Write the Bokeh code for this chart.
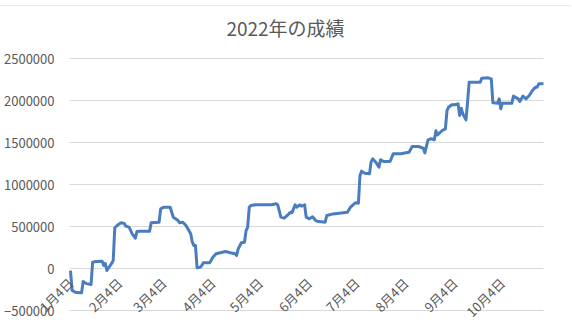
import math
import pandas as pd
from bokeh.plotting import figure
from bokeh.models import FixedTicker, BasicTickFormatter, Range1d, Label, LinearAxis
from bokeh.embed import file_html
from bokeh.resources import INLINE

year = 2022

dates = [
    "01-04", "01-05", "01-07", "01-10", "01-11", "01-12", "01-14", "01-17", "01-18", "01-20",
    "01-24", "01-25", "01-26", "01-27", "01-30", "01-31",
    "02-01", "02-03", "02-05", "02-07", "02-08", "02-10", "02-12", "02-14", "02-15", "02-17",
    "02-23", "02-24",
    "03-01", "03-02", "03-04", "03-08", "03-10", "03-13", "03-14", "03-16", "03-18", "03-21",
    "03-22", "03-23", "03-24", "03-25", "03-27", "03-28", "03-29",
    "04-02", "04-04", "04-06", "04-10", "04-12", "04-15", "04-18", "04-19", "04-20", "04-22",
    "04-24", "04-25", "04-26", "04-27", "04-28",
    "05-01", "05-11", "05-14", "05-15", "05-17", "05-19", "05-21", "05-23", "05-24", "05-26",
    "05-27", "05-29", "05-30",
    "06-01", "06-02", "06-04", "06-06", "06-08", "06-09", "06-14", "06-15", "06-19", "06-28",
    "06-30",
    "07-03", "07-05", "07-06", "07-07", "07-09", "07-12", "07-13", "07-14", "07-16", "07-18",
    "07-19", "07-21", "07-25", "07-27",
    "08-01", "08-04", "08-06", "08-08", "08-12", "08-15", "08-16", "08-18", "08-20", "08-22",
    "08-23", "08-24", "08-27", "08-29", "08-30", "08-31",
    "09-02", "09-04", "09-06", "09-07", "09-08", "09-09", "09-11", "09-12", "09-13", "09-20",
    "09-21", "09-25", "09-27", "09-28",
    "10-01", "10-02", "10-03", "10-04", "10-10", "10-11", "10-14", "10-15", "10-17", "10-19",
    "10-21", "10-23", "10-25", "10-26", "10-27", "10-30",
]

values = [
    -24000, -260000, -282000, -290000, -290000, -155000, -180000, -190000, 75000, 83000,
    87000, 36000, 60000, -24000, 60000, 95000,
    485000, 520000, 544000, 536000, 504000, 492000, 413000, 361000, 440000, 444000,
    444000, 544000,
    551000, 710000, 730000, 730000, 611000, 571000, 544000, 551000, 512000, 413000,
    313000, 274000, 274000, 10000, 16000, 36000, 68000,
    68000, 135000, 175000, 194000, 202000, 187000, 175000, 155000, 234000, 306000,
    313000, 452000, 492000, 730000, 750000,
    758000, 758000, 770000, 758000, 611000, 599000, 631000, 670000, 663000, 758000,
    730000, 758000, 742000,
    758000, 611000, 591000, 615000, 571000, 563000, 551000, 631000, 650000, 670000,
    730000,
    782000, 778000, 1107000, 1159000, 1135000, 1127000, 1266000, 1306000, 1266000, 1206000,
    1294000, 1274000, 1274000, 1365000,
    1365000, 1377000, 1385000, 1452000, 1452000, 1432000, 1377000, 1532000, 1544000, 1532000,
    1640000, 1591000, 1643000, 1663000, 1881000, 1920000,
    1949000, 1949000, 1960000, 1821000, 1908000, 1841000, 1770000, 1980000, 2218000, 2218000,
    2266000, 2270000, 2258000, 1972000,
    1968000, 2020000, 1901000, 1968000, 1968000, 2052000, 2020000, 1988000, 2052000, 2020000,
    2060000, 2119000, 2159000, 2159000, 2198000, 2198000,
]

tick_dates = ["01-04", "02-04", "03-04", "04-04", "05-04", "06-04", "07-04", "08-04", "09-04", "10-04"]
tick_labels = ["1月4日", "2月4日", "3月4日", "4月4日", "5月4日", "6月4日", "7月4日", "8月4日", "9月4日", "10月4日"]
y_ticks = [-500000, 0, 500000, 1000000, 1500000, 2000000, 2500000]
title_text = "2022年の成績"

base = pd.Timestamp(f"{year}-01-01")


def day_num(s):
    return (pd.Timestamp(f"{year}-{s}") - base).days


xs = [day_num(s) for s in dates]
tx = [day_num(s) for s in tick_dates]

FONT = "Noto Sans CJK JP"
GRAY = "#595959"
GRID = "#D9D9D9"

# layout geometry (pixels) of the plot area inside the 572 x 327 canvas
W, H = 572, 327
PX_LEFT, PX_RIGHT, PX_TOP, PX_BOTTOM = 70, 544, 53, 305
x_lo, x_hi = xs[0] - 0.63, xs[-1]
y_lo, y_hi = y_ticks[0], y_ticks[-1]
kx = (x_hi - x_lo) / (PX_RIGHT - PX_LEFT)
ky = (y_hi - y_lo) / (PX_BOTTOM - PX_TOP)

p = figure(width=W, height=H, output_backend="svg", toolbar_location=None,
           x_range=Range1d(x_lo - PX_LEFT * kx, x_hi + (W - PX_RIGHT) * kx),
           y_range=Range1d(y_lo - (H - PX_BOTTOM) * ky, y_hi + PX_TOP * ky),
           x_axis_location=None, y_axis_location=None,
           min_border_left=0, min_border_right=0, min_border_top=0, min_border_bottom=0)
p.margin = (5, 0, 0, -1)
p.styles = {"outline": "1px solid #D9D9D9", "outline-offset": "-1px"}
p.outline_line_color = None
p.background_fill_color = "white"
p.border_fill_color = "white"
p.xgrid.visible = False
p.ygrid.visible = False

# horizontal gridlines over the plot area
p.segment(x0=[x_lo] * len(y_ticks), x1=[x_hi] * len(y_ticks), y0=y_ticks, y1=y_ticks,
          line_color=GRID, line_width=1)

p.line(xs, values, line_color="#4A7DC0", line_width=3, line_join="round")

ya = LinearAxis(fixed_location=x_lo, ticker=FixedTicker(ticks=y_ticks),
                formatter=BasicTickFormatter(use_scientific=False),
                axis_line_color=None, major_tick_line_color=None, minor_tick_line_color=None,
                major_label_standoff=9,
                major_label_text_font=FONT, major_label_text_font_size="13px",
                major_label_text_color=GRAY)
p.add_layout(ya, "left")

xa = LinearAxis(fixed_location=0, ticker=FixedTicker(ticks=tx),
                major_label_overrides={t: l for t, l in zip(tx, tick_labels)},
                major_label_orientation=math.pi / 4,
                axis_line_color=None, major_tick_line_color=None, minor_tick_line_color=None,
                major_label_standoff=6,
                major_label_text_font=FONT, major_label_text_font_size="13px",
                major_label_text_color=GRAY)
p.add_layout(xa, "below")

p.add_layout(Label(x=286, y=H - 22, x_units="screen", y_units="screen", text=title_text,
                   text_align="center", text_baseline="middle",
                   text_font=FONT, text_font_size="19px", text_color=GRAY))

open("out.html", "w").write(file_html(p, INLINE))
